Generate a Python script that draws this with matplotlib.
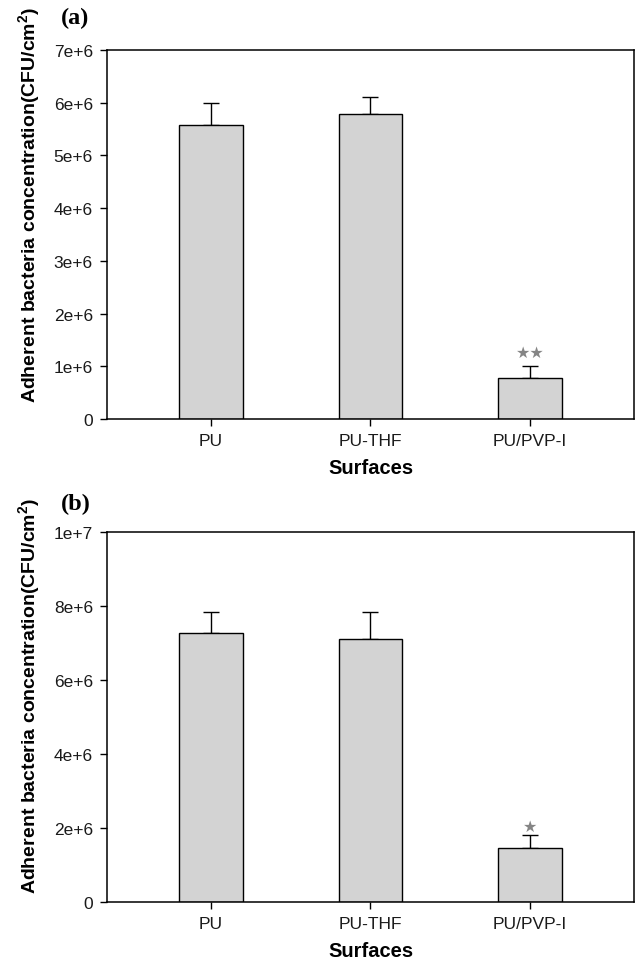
import matplotlib.pyplot as plt
import numpy as np

plt.rcParams['font.family'] = ['Liberation Sans', 'DejaVu Sans']
plt.rcParams['mathtext.fontset'] = 'custom'
plt.rcParams['mathtext.rm'] = 'Liberation Sans'
plt.rcParams['mathtext.bf'] = 'Liberation Sans:bold'

# data
surfaces = ['PU', 'PU-THF', 'PU/PVP-I']
conc_a = [5.57e6, 5.79e6, 0.78e6]
err_a = [0.43e6, 0.32e6, 0.23e6]
conc_b = [7.27e6, 7.10e6, 1.46e6]
err_b = [0.58e6, 0.75e6, 0.36e6]
stars_a = ['', '', '\u2605\u2605']
stars_b = ['', '', '\u2605']
yticks_a = [0, 1e6, 2e6, 3e6, 4e6, 5e6, 6e6, 7e6]
yticklabels_a = ['0', '1e+6', '2e+6', '3e+6', '4e+6', '5e+6', '6e+6', '7e+6']
yticks_b = [0, 2e6, 4e6, 6e6, 8e6, 1e7]
yticklabels_b = ['0', '2e+6', '4e+6', '6e+6', '8e+6', '1e+7']

fig = plt.figure(figsize=(6.36, 9.62), dpi=100)


def draw_panel(rect, vals, errs, stars, ymax, yticks, yticklabels, letter, letter_y, star_off, label_y):
    ax = fig.add_axes(rect)
    x = np.arange(len(surfaces))
    ax.bar(x, vals, width=0.4, color='#d3d3d3', edgecolor='black', linewidth=1.0, zorder=2)
    ax.errorbar(x, vals, yerr=[np.zeros(len(errs)), errs], fmt='none', ecolor='black',
                elinewidth=1.0, capsize=5.5, capthick=1.0, zorder=1)
    for xi, v, e, s in zip(x, vals, errs, stars):
        if s:
            ax.annotate(s, xy=(xi, v + e), xytext=(0, star_off), textcoords='offset points',
                        ha='center', va='bottom', color='#858585', fontsize=11.5,
                        family='DejaVu Sans')
    ax.set_xlim(-0.65, 2.65)
    ax.set_ylim(0, ymax)
    ax.set_xticks(x)
    ax.set_xticklabels(surfaces, fontsize=12.5, color='#1a1a1a')
    ax.set_yticks(yticks)
    ax.set_yticklabels(yticklabels, fontsize=12.5, color='#1a1a1a')
    ax.tick_params(direction='out', length=5, width=1, pad=5)
    for sp in ax.spines.values():
        sp.set_linewidth(1.1)
    ax.set_xlabel('Surfaces', fontsize=14.5, fontweight='bold', labelpad=7)
    ax.set_ylabel('Adherent bacteria concentration(CFU/cm$\\mathbf{^2}$)', fontsize=14,
                  fontweight='bold')
    ax.yaxis.set_label_coords(-0.123, label_y)
    ax.text(-0.088, letter_y, letter, transform=ax.transAxes, fontsize=17.5, fontweight='bold',
            family='Liberation Serif', ha='left', va='center')
    return ax


draw_panel([0.168, 0.5634, 0.829, 0.3836], conc_a, err_a, stars_a, 7e6,
           yticks_a, yticklabels_a, '(a)', 1.087, 4.5, 0.583)
draw_panel([0.168, 0.0613, 0.829, 0.3847], conc_b, err_b, stars_b, 1e7,
           yticks_b, yticklabels_b, '(b)', 1.078, 0.5, 0.56)

fig.savefig('out.png', dpi=100)
